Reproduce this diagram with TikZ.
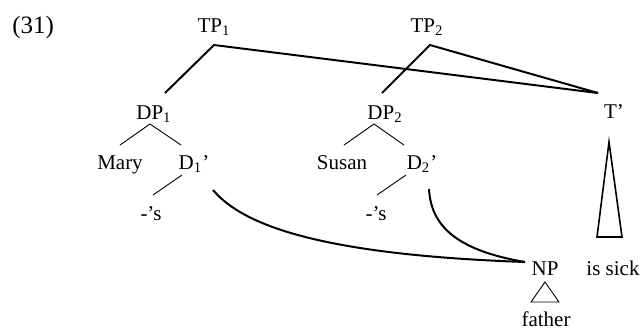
\documentclass[tikz,border=0pt]{standalone}
\usepackage{fontspec}
\setmainfont{Liberation Serif}
\usepackage{tikz}

\tikzset{
    lbl/.style={anchor=base,inner sep=0pt,font=\fontsize{10.5}{12}\selectfont},
    branch/.style={line width=1pt},
    twig/.style={line width=0.45pt},
    roof/.style={line width=0.8pt}
}

\begin{document}
\begin{tikzpicture}[x=0.5pt,y=-0.5pt]
    \useasboundingbox (0,0) rectangle (641,329);

    \node[lbl,anchor=base west,font=\fontsize{12.5}{14}\selectfont] (ex) at (12,33) {(31)};

    \node[lbl] (tp1) at (214,32) {TP\textsubscript{1}};
    \node[lbl] (tp2) at (427,32) {TP\textsubscript{2}};
    \node[lbl] (dp1) at (154,119) {DP\textsubscript{1}};
    \node[lbl] (dp2) at (385,119) {DP\textsubscript{2}};
    \node[lbl] (tbar) at (614,118) {T’};

    \node[lbl] (mary) at (120,169) {Mary};
    \node[lbl] (d1) at (194,169) {D\textsubscript{1}’};
    \node[lbl] (susan) at (342,169) {Susan};
    \node[lbl] (d2) at (422,169) {D\textsubscript{2}’};
    \node[lbl] (s1) at (151,220) {-’s};
    \node[lbl] (s2) at (376,220) {-’s};

    \node[lbl] (np) at (545,275) {NP};
    \node[lbl] (sick) at (613,275) {is sick};
    \node[lbl] (father) at (546,326) {father};

    % ends of the connectors
    \coordinate (tp1a) at (214,45);
    \coordinate (tp2a) at (430,45);
    \coordinate (dp1t) at (165,93);
    \coordinate (dp2t) at (382,93);
    \coordinate (tbart) at (598,93);
    \coordinate (dp1a) at (150,124);
    \coordinate (dp2a) at (374,124);
    \coordinate (d1a) at (182,175);
    \coordinate (d2a) at (406,175);
    \coordinate (d1c) at (213,190);
    \coordinate (d2c) at (429,189);
    \coordinate (npt) at (525,262);

    % TP branches
    \draw[branch] (dp1t) -- (tp1a) -- (tbart);
    \draw[branch] (dp2t) -- (tp2a) -- (tbart);

    % DP branches
    \draw[twig] (120,145) -- (dp1a) -- (181,145);
    \draw[twig] (344,145) -- (dp2a) -- (404,145);
    \draw[twig] (d1a) -- (153,195);
    \draw[twig] (d2a) -- (377,195);

    % shared NP
    \draw[branch] (d1c) .. controls (245,228) and (330,255) .. (npt);
    \draw[branch] (d2c) .. controls (431,225) and (455,250) .. (npt);

    % triangles
    \draw[twig] (545,282) -- (559,302) -- (531,302) -- cycle;
    \draw[roof] (609,142) -- (622,237) -- (597,237) -- cycle;
\end{tikzpicture}
\end{document}
